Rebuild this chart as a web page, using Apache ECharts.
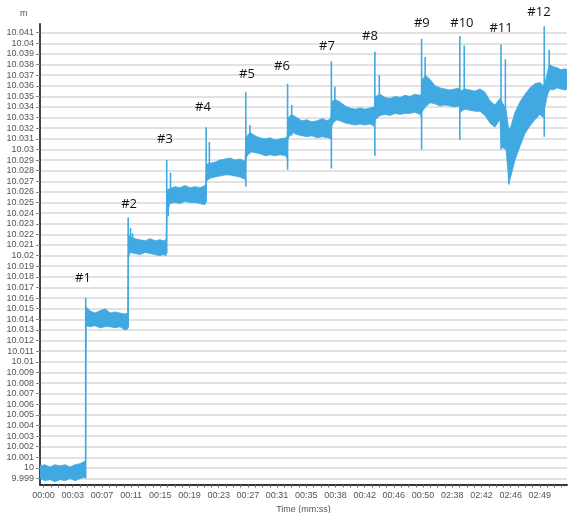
<!DOCTYPE html>
<html><head><meta charset="utf-8">
<script src="https://cdn.jsdelivr.net/npm/echarts@6/dist/echarts.min.js"></script>
<style>html,body{margin:0;padding:0;background:#fff}#c{width:568px;height:513px}</style>
</head><body><div id="c"></div>
<script>
// x axis: unitless position, one label every 10 units
const xLabels = ['00:00','00:03','00:07','00:11','00:15','00:19','00:23','00:27','00:31','00:35','00:38','00:42','00:46','00:50','02:38','02:42','02:46','02:49'];
const xLabelPos = [0,10,20,30,40,50,60,70,80,90,100,110,120,130,140,150,160,170];
const yTickLabels = ['9.999','10','10.001','10.002','10.003','10.004','10.005','10.006','10.007','10.008','10.009','10.01','10.011','10.012','10.013','10.014','10.015','10.016','10.017','10.018','10.019','10.02','10.021','10.022','10.023','10.024','10.025','10.026','10.027','10.028','10.029','10.03','10.031','10.032','10.033','10.034','10.035','10.036','10.037','10.038','10.039','10.04','10.041'];

// noise band envelope (upper / lower edge)
const bandX = [
 -1.2,0.5,2.2,3.9,5.7,7.4,9.1,10.8,12.5,13.9,14.35,
 14.55,15.9,17.6,19.3,21.1,22.8,24.5,26.2,27.9,28.9,
 29.1,29.6,31.3,33.0,34.8,36.5,38.2,39.9,41.0,42.0,
 42.3,43.3,45.0,46.7,48.5,50.2,51.9,53.6,55.3,55.6,
 55.8,57.0,58.7,60.4,62.2,63.9,65.6,67.3,69.0,
 69.4,70.7,72.4,74.1,75.9,77.6,79.3,81.0,83.0,83.5,
 83.7,85.1,86.8,88.5,90.2,91.9,93.7,95.4,97.4,98.4,
 98.7,99.9,101.5,103.3,105.0,106.7,108.4,110.1,111.8,113.3,
 113.6,115.3,117.0,118.7,120.4,122.1,123.8,125.5,127.2,129.0,129.4,
 129.6,130.8,132.4,134.1,135.8,137.5,139.2,140.9,142.4,
 142.7,144.3,146.0,147.8,149.5,151.2,152.9,154.6,156.3,
 157.0,158.4,159.4,160.1,161.5,163.2,164.9,166.6,168.3,170.0,171.3,
 171.6,172.5,173.3,174.5,175.9,177.2,178.6,179.3];
const bandHigh = [
 10.0002,10.0003,10.0001,10.0003,10.0002,10.0003,10.0001,10.0003,10.0004,10.0006,10.0006,
 10.0152,10.0148,10.0146,10.0148,10.0150,10.0146,10.0147,10.0146,10.0145,10.0146,
 10.0220,10.0218,10.0216,10.0215,10.0214,10.0216,10.0214,10.0215,10.0214,10.0215,
 10.0262,10.0263,10.0265,10.0264,10.0266,10.0264,10.0265,10.0264,10.0266,10.0268,
 10.0286,10.0287,10.0288,10.0290,10.0291,10.0292,10.0290,10.0291,10.0289,
 10.0312,10.0316,10.0313,10.0311,10.0310,10.0311,10.0309,10.0310,10.0311,10.0312,
 10.0330,10.0333,10.0330,10.0327,10.0328,10.0326,10.0327,10.0329,10.0327,10.0330,
 10.0345,10.0347,10.0345,10.0341,10.0339,10.0338,10.0339,10.0338,10.0339,10.0340,
 10.0350,10.0352,10.0349,10.0348,10.0350,10.0349,10.0351,10.0350,10.0352,10.0351,10.0352,
 10.0365,10.0370,10.0366,10.0360,10.0358,10.0357,10.0356,10.0357,10.0358,
 10.0355,10.0357,10.0356,10.0355,10.0357,10.0354,10.0346,10.0342,10.0348,
 10.0345,10.0338,10.0318,10.0322,10.0335,10.0345,10.0352,10.0358,10.0362,10.0363,10.0360,
 10.0360,10.0372,10.0380,10.0378,10.0377,10.0375,10.0376,10.0375];
const bandLow = [
 9.9990,9.9988,9.9989,9.9987,9.9989,9.9988,9.9990,9.9988,9.9990,9.9991,9.9991,
 10.0134,10.0133,10.0134,10.0132,10.0133,10.0133,10.0132,10.0133,10.0130,10.0131,
 10.0198,10.0203,10.0202,10.0201,10.0203,10.0202,10.0201,10.0200,10.0201,10.0200,
 10.0240,10.0249,10.0250,10.0249,10.0251,10.0250,10.0250,10.0249,10.0248,10.0252,
 10.0270,10.0273,10.0274,10.0275,10.0276,10.0276,10.0275,10.0274,10.0272,
 10.0292,10.0298,10.0297,10.0296,10.0294,10.0295,10.0294,10.0295,10.0294,10.0291,
 10.0310,10.0316,10.0314,10.0313,10.0312,10.0313,10.0311,10.0312,10.0311,10.0310,
 10.0322,10.0328,10.0327,10.0325,10.0324,10.0323,10.0324,10.0323,10.0324,10.0322,
 10.0328,10.0332,10.0333,10.0332,10.0334,10.0333,10.0334,10.0334,10.0335,10.0333,10.0330,
 10.0335,10.0340,10.0344,10.0343,10.0341,10.0342,10.0341,10.0340,10.0341,
 10.0335,10.0338,10.0337,10.0336,10.0336,10.0332,10.0325,10.0321,10.0328,
 10.0302,10.0300,10.0269,10.0275,10.0290,10.0303,10.0315,10.0322,10.0328,10.0333,10.0330,
 10.0338,10.0350,10.0357,10.0356,10.0358,10.0357,10.0356,10.0357];

// spikes at each step change
const spikeX    = [14.45, 29.0,29.8,30.5, 42.2,42.7,43.5, 55.7,56.8, 69.3,70.7, 83.6,85.0, 98.6,99.8, 113.5,115.0, 129.5,130.7, 142.6,144.1, 156.7,158.2,159.4, 171.5,173.2];
const spikeLow  = [9.9990, 10.0132,10.0205,10.0208, 10.0202,10.0237,10.0250, 10.0250,10.0272, 10.0265,10.0296, 10.0281,10.0313, 10.0282,10.0326, 10.0294,10.0333, 10.0300,10.0342, 10.0309,10.0338, 10.0300,10.0300,10.0267, 10.0312,10.0355];
const spikeHigh = [10.0160, 10.0236,10.0226,10.0221, 10.0290,10.0255,10.0278, 10.0321,10.0307, 10.0354,10.0323, 10.0362,10.0342, 10.0383,10.0359, 10.0392,10.0370, 10.0404,10.0387, 10.0407,10.0398, 10.0399,10.0385,10.0320, 10.0416,10.0394];

// step annotations
const noteText = ['#1','#2','#3','#4','#5','#6','#7','#8','#9','#10','#11','#12'];
const noteX = [13.5,29.3,41.6,54.6,69.7,81.7,97.1,111.8,129.6,143.3,156.7,169.7];
const noteY = [10.0179,10.0248,10.0310,10.0340,10.0371,10.0378,10.0397,10.0407,10.0419,10.0419,10.04144,10.04295];

const BLUE = '#41a9e1';
const xTickPos = [];
for (let v = 0; v <= 177.5; v += 2.5) xTickPos.push(v);
const yTickVals = yTickLabels.map(Number);

const chart = echarts.init(document.getElementById('c'), null, {renderer: 'canvas'});
chart.setOption({
  animation: false,
  backgroundColor: '#fff',
  grid: {left: 40, right: 1, top: 24, bottom: 28.5, containLabel: false, outerBoundsMode: 'none'},
  graphic: [{type: 'text', left: 20, top: 9, style: {text: 'm', font: '9px "Liberation Sans"', fill: '#555'}}],
  xAxis: {
    type: 'value', min: -1.2, max: 179.3,
    name: 'Time (mm:ss)', nameLocation: 'middle', nameGap: 17,
    nameTextStyle: {fontFamily: 'Liberation Sans', fontSize: 9, color: '#555'},
    axisLine: {onZero: false, lineStyle: {color: '#333', width: 2}},
    axisTick: {show: true, length: 3, customValues: xTickPos, lineStyle: {color: '#666', width: 1}},
    axisLabel: {customValues: xLabelPos, margin: 7, fontFamily: 'Liberation Sans', fontSize: 9, color: '#555',
      formatter: v => xLabels[Math.round(v / 10)] || ''},
    splitLine: {show: false}
  },
  yAxis: {
    type: 'value', min: 9.99844, max: 10.04182,
    axisLine: {show: true, onZero: false, lineStyle: {color: '#444', width: 2}},
    axisTick: {show: true, length: 4, customValues: yTickVals, lineStyle: {color: '#888', width: 1}},
    axisLabel: {customValues: yTickVals, margin: 6, fontFamily: 'Liberation Sans', fontSize: 9, color: '#555',
      formatter: v => { const i = yTickVals.findIndex(t => Math.abs(t - v) < 1e-7); return i >= 0 ? yTickLabels[i] : ''; }},
    splitLine: {show: true, lineStyle: {color: '#e2e2e2', width: 2}}
  },
  series: [
    {
      type: 'custom', name: 'band', clip: true,
      data: [0],
      renderItem: (params, api) => {
        const pts = [];
        for (let i = 0; i < bandX.length; i++) pts.push(api.coord([bandX[i], bandHigh[i]]));
        for (let i = bandX.length - 1; i >= 0; i--) pts.push(api.coord([bandX[i], bandLow[i]]));
        return {type: 'polygon', shape: {points: pts}, style: {fill: BLUE, stroke: BLUE, lineWidth: 0.8}};
      }
    },
    {
      type: 'custom', name: 'spikes', clip: true,
      data: spikeX.map((x, i) => [x, spikeLow[i], spikeHigh[i]]),
      renderItem: (params, api) => {
        const a = api.coord([api.value(0), api.value(1)]);
        const b = api.coord([api.value(0), api.value(2)]);
        return {type: 'line', shape: {x1: a[0], y1: a[1], x2: b[0], y2: b[1]}, style: {stroke: BLUE, lineWidth: 1.6}};
      }
    },
    {
      type: 'custom', name: 'notes', clip: false,
      data: noteX.map((x, i) => [x, noteY[i], i]),
      renderItem: (params, api) => {
        const p = api.coord([api.value(0), api.value(1)]);
        return {type: 'text', x: p[0], y: p[1], style: {text: noteText[api.value(2)], font: '13px "Open Sans"', fill: '#111', align: 'center', verticalAlign: 'middle'}};
      }
    }
  ]
});
</script></body></html>
